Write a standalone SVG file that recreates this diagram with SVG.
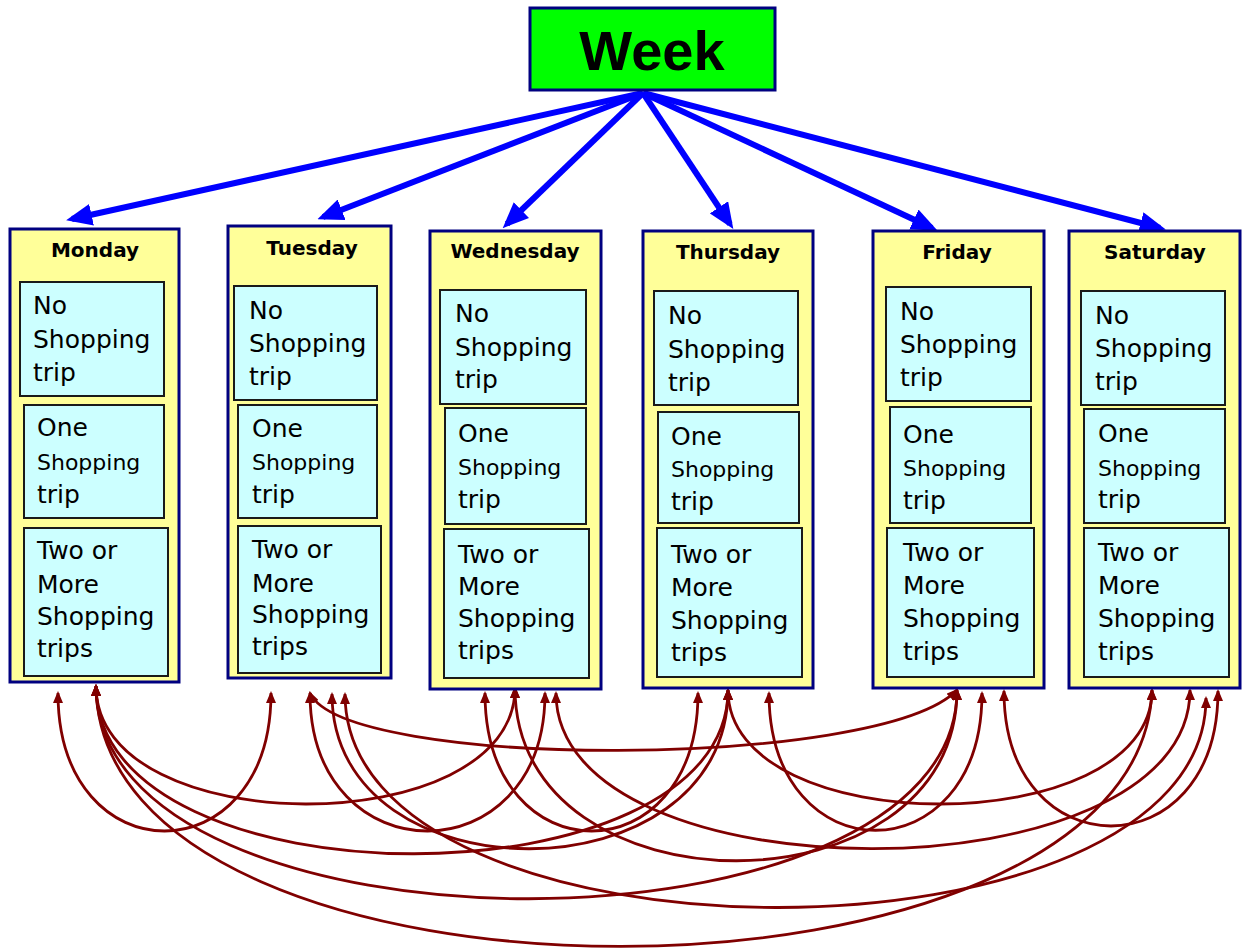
<svg xmlns="http://www.w3.org/2000/svg" width="1246" height="951" viewBox="0 0 1246 951">
<style>
.day{fill:#FFFF99;stroke:#000080;stroke-width:3}
.opt{fill:#CCFFFF;stroke:#1a1a1a;stroke-width:2}
.title{font-family:"DejaVu Sans",Verdana,sans-serif;font-weight:bold;font-size:20px;text-anchor:middle;fill:#000}
.t{font-family:"DejaVu Sans",Verdana,sans-serif;font-size:25px;fill:#000}
.s{font-size:22px}
.blue{stroke:#0000FF;stroke-width:6;fill:none}
.red{stroke:#800000;stroke-width:2.8;fill:none}
</style>
<defs>
<marker id="ab" markerUnits="userSpaceOnUse" markerWidth="26" markerHeight="22" refX="20" refY="11" orient="auto" viewBox="0 0 26 22">
<path d="M0,0 L26,11 L0,22 z" fill="#0000FF"/>
</marker>
<marker id="ar" markerUnits="userSpaceOnUse" markerWidth="12" markerHeight="10" refX="10" refY="5" orient="auto-start-reverse" viewBox="0 0 12 10">
<path d="M0,0 L12,5 L0,10 z" fill="#800000"/>
</marker>
</defs>

<g id="connectors">
<g id="week-links">
<path class="blue" marker-end="url(#ab)" d="M643 93 L72 219"/>
<path class="blue" marker-end="url(#ab)" d="M643 93 L323 217"/>
<path class="blue" marker-end="url(#ab)" d="M643 93 L507 224"/>
<path class="blue" marker-end="url(#ab)" d="M643 93 L730 224"/>
<path class="blue" marker-end="url(#ab)" d="M643 93 L932 228"/>
<path class="blue" marker-end="url(#ab)" d="M643 93 L1160 228"/>
</g>
<g id="day-links">
<path class="red" marker-start="url(#ar)" marker-end="url(#ar)" d="M58 693 C58 877 271 877 271 693"/>
<path class="red" marker-start="url(#ar)" marker-end="url(#ar)" d="M96 686 C96 843 515 843 515 688"/>
<path class="red" marker-start="url(#ar)" marker-end="url(#ar)" d="M96 686 C96 909 728 909 728 690"/>
<path class="red" marker-start="url(#ar)" marker-end="url(#ar)" d="M96 686 C96 969 957 969 957 690"/>
<path class="red" marker-start="url(#ar)" marker-end="url(#ar)" d="M96 686 C100 1035 1140 1030 1152 690"/>
<path class="red" marker-start="url(#ar)" marker-end="url(#ar)" d="M310 693 C345 770 880 770 957 690"/>
<path class="red" marker-start="url(#ar)" marker-end="url(#ar)" d="M310 693 C310 877 545 877 545 693"/>
<path class="red" marker-start="url(#ar)" marker-end="url(#ar)" d="M332 694 C332 901 728 901 728 690"/>
<path class="red" marker-start="url(#ar)" marker-end="url(#ar)" d="M345 694 C345 978 1206 978 1206 698"/>
<path class="red" marker-start="url(#ar)" marker-end="url(#ar)" d="M485 693 C485 877 698 877 698 693"/>
<path class="red" marker-start="url(#ar)" marker-end="url(#ar)" d="M515 688 C515 918 957 918 957 690"/>
<path class="red" marker-start="url(#ar)" marker-end="url(#ar)" d="M556 693 C556 901 1190 901 1190 690"/>
<path class="red" marker-start="url(#ar)" marker-end="url(#ar)" d="M728 690 C728 842 1152 842 1152 690"/>
<path class="red" marker-start="url(#ar)" marker-end="url(#ar)" d="M769 693 C769 876 982 876 982 693"/>
<path class="red" marker-start="url(#ar)" marker-end="url(#ar)" d="M1004 691 C1004 871 1218 871 1218 691"/>
</g>
</g>

<g id="week">
<rect x="530" y="8" width="245" height="82" fill="#00FF00" stroke="#000080" stroke-width="3"/>
<text x="652" y="70" font-family="'Liberation Sans',Arial,sans-serif" font-weight="bold" font-size="56" text-anchor="middle">Week</text>
</g>

<g id="monday">
<rect class="day" x="10" y="229" width="169" height="453"/>
<text class="title" x="95" y="257">Monday</text>
<g id="monday-none"><rect class="opt" x="20" y="282" width="144" height="114"/>
<text class="t" x="33" y="314">No</text><text class="t" x="33" y="348">Shopping</text><text class="t" x="33" y="381">trip</text></g>
<g id="monday-one"><rect class="opt" x="24" y="405" width="140" height="113"/>
<text class="t" x="37" y="436">One</text><text class="t s" x="37" y="470">Shopping</text><text class="t" x="37" y="503">trip</text></g>
<g id="monday-two"><rect class="opt" x="24" y="528" width="144" height="148"/>
<text class="t" x="37" y="559">Two or</text><text class="t" x="37" y="593">More</text><text class="t" x="37" y="625">Shopping</text><text class="t" x="37" y="657">trips</text></g>
</g>

<g id="tuesday">
<rect class="day" x="228" y="226" width="163" height="452" stroke-width="4"/>
<text class="title" x="312" y="255">Tuesday</text>
<g id="tuesday-none"><rect class="opt" x="234" y="286" width="143" height="114"/>
<text class="t" x="249" y="319">No</text><text class="t" x="249" y="352">Shopping</text><text class="t" x="249" y="385">trip</text></g>
<g id="tuesday-one"><rect class="opt" x="238" y="405" width="139" height="113"/>
<text class="t" x="252" y="437">One</text><text class="t s" x="252" y="470">Shopping</text><text class="t" x="252" y="503">trip</text></g>
<g id="tuesday-two"><rect class="opt" x="238" y="526" width="143" height="147"/>
<text class="t" x="252" y="558">Two or</text><text class="t" x="252" y="592">More</text><text class="t" x="252" y="623">Shopping</text><text class="t" x="252" y="655">trips</text></g>
</g>

<g id="wednesday">
<rect class="day" x="430" y="231" width="171" height="458"/>
<text class="title" x="515" y="258">Wednesday</text>
<g id="wednesday-none"><rect class="opt" x="440" y="290" width="146" height="114"/>
<text class="t" x="455" y="322">No</text><text class="t" x="455" y="356">Shopping</text><text class="t" x="455" y="388">trip</text></g>
<g id="wednesday-one"><rect class="opt" x="445" y="408" width="141" height="116"/>
<text class="t" x="458" y="442">One</text><text class="t s" x="458" y="475">Shopping</text><text class="t" x="458" y="508">trip</text></g>
<g id="wednesday-two"><rect class="opt" x="444" y="529" width="145" height="149"/>
<text class="t" x="458" y="563">Two or</text><text class="t" x="458" y="595">More</text><text class="t" x="458" y="627">Shopping</text><text class="t" x="458" y="659">trips</text></g>
</g>

<g id="thursday">
<rect class="day" x="643" y="231" width="170" height="457"/>
<text class="title" x="728" y="259">Thursday</text>
<g id="thursday-none"><rect class="opt" x="654" y="291" width="144" height="114"/>
<text class="t" x="668" y="324">No</text><text class="t" x="668" y="358">Shopping</text><text class="t" x="668" y="391">trip</text></g>
<g id="thursday-one"><rect class="opt" x="658" y="412" width="141" height="111"/>
<text class="t" x="671" y="445">One</text><text class="t s" x="671" y="477">Shopping</text><text class="t" x="671" y="510">trip</text></g>
<g id="thursday-two"><rect class="opt" x="657" y="528" width="145" height="149"/>
<text class="t" x="671" y="563">Two or</text><text class="t" x="671" y="596">More</text><text class="t" x="671" y="629">Shopping</text><text class="t" x="671" y="661">trips</text></g>
</g>

<g id="friday">
<rect class="day" x="873" y="231" width="171" height="457"/>
<text class="title" x="957" y="259">Friday</text>
<g id="friday-none"><rect class="opt" x="886" y="287" width="145" height="114"/>
<text class="t" x="900" y="320">No</text><text class="t" x="900" y="353">Shopping</text><text class="t" x="900" y="386">trip</text></g>
<g id="friday-one"><rect class="opt" x="890" y="407" width="141" height="116"/>
<text class="t" x="903" y="443">One</text><text class="t s" x="903" y="476">Shopping</text><text class="t" x="903" y="509">trip</text></g>
<g id="friday-two"><rect class="opt" x="887" y="528" width="147" height="149"/>
<text class="t" x="903" y="561">Two or</text><text class="t" x="903" y="594">More</text><text class="t" x="903" y="627">Shopping</text><text class="t" x="903" y="660">trips</text></g>
</g>

<g id="saturday">
<rect class="day" x="1069" y="231" width="171" height="457"/>
<text class="title" x="1155" y="259">Saturday</text>
<g id="saturday-none"><rect class="opt" x="1081" y="291" width="144" height="114"/>
<text class="t" x="1095" y="324">No</text><text class="t" x="1095" y="357">Shopping</text><text class="t" x="1095" y="390">trip</text></g>
<g id="saturday-one"><rect class="opt" x="1084" y="409" width="141" height="114"/>
<text class="t" x="1098" y="442">One</text><text class="t s" x="1098" y="476">Shopping</text><text class="t" x="1098" y="508">trip</text></g>
<g id="saturday-two"><rect class="opt" x="1084" y="528" width="145" height="149"/>
<text class="t" x="1098" y="561">Two or</text><text class="t" x="1098" y="594">More</text><text class="t" x="1098" y="627">Shopping</text><text class="t" x="1098" y="660">trips</text></g>
</g>
</svg>
